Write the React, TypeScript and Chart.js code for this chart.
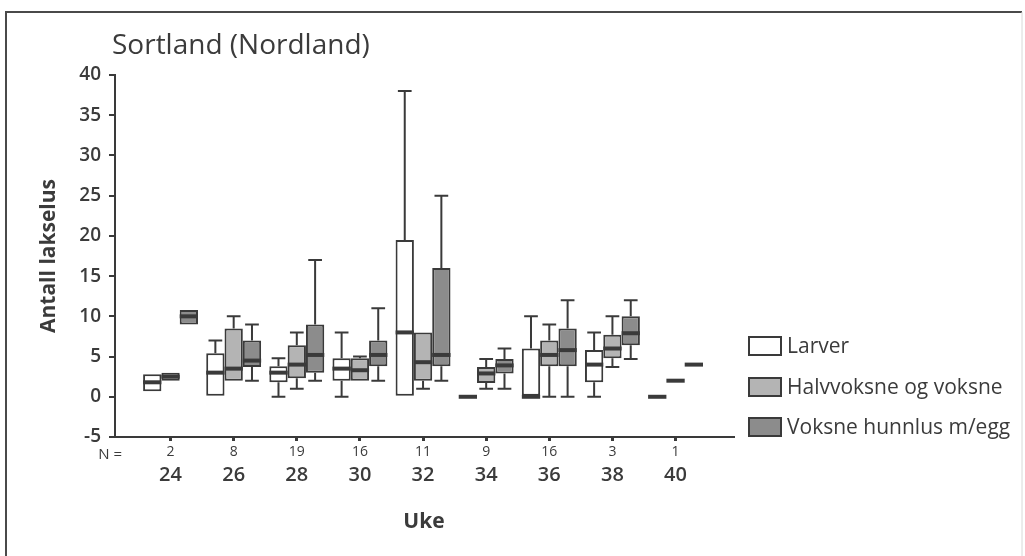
import React, { useEffect, useRef } from 'react';
import { Chart, registerables } from 'chart.js';
Chart.register(...registerables);

const weeks = [24, 26, 28, 30, 32, 34, 36, 38, 40];
const nCounts = [2, 8, 19, 16, 11, 9, 16, 3, 1];
const seriesNames = ['Larver', 'Halvvoksne og voksne', 'Voksne hunnlus m/egg'];
// each entry: [min, q1, median, q3, max]
const larver = [
  [0.7, 0.7, 1.8, 2.8, 2.8],
  [0, 0, 3, 5.4, 7],
  [0, 1.8, 3, 3.8, 4.8],
  [0, 2, 3.5, 4.8, 8],
  [0, 0, 8, 19.5, 38],
  [0, 0, 0, 0, 0],
  [0, 0, 0, 6, 10],
  [0, 1.8, 4, 5.8, 8],
  [0, 0, 0, 0, 0],
];
const halvvoksne = [
  [2, 2, 2.5, 3, 3],
  [2, 2, 3.5, 8.5, 10],
  [1, 2.3, 4, 6.4, 8],
  [2, 2, 3.3, 4.8, 5],
  [1, 2, 4.3, 8, 8],
  [1, 1.7, 2.9, 3.7, 4.7],
  [0, 3.8, 5.2, 7, 9],
  [3.7, 4.8, 6, 7.7, 10],
  [2, 2, 2, 2, 2],
];
const voksne = [
  [9, 9, 10, 10.8, 10.8],
  [2, 3.7, 4.5, 7, 9],
  [2, 3, 5.2, 9, 17],
  [2, 3.8, 5.2, 7, 11],
  [2, 3.8, 5.2, 16, 25],
  [1, 2.9, 3.9, 4.7, 6],
  [0, 3.8, 5.8, 8.5, 12],
  [4.7, 6.4, 7.9, 10, 12],
  [4, 4, 4, 4, 4],
];

const FONT = "'Open Sans', 'Noto Sans', sans-serif";
const TEXT = '#3b3b3b';
const LINE = '#3a3a3a';
const fills = ['#ffffff', '#b4b4b4', '#8c8c8c'];
const X_MIN = 22.24;
const X_MAX = 41.82;

export default function App() {
  const ref = useRef<HTMLCanvasElement>(null);
  useEffect(() => {
    document.body.style.margin = '0';
    const boxPlugin = {
      id: 'boxWhiskers',
      afterDatasetsDraw(chart: any) {
        const ctx = chart.ctx;
        const y = chart.scales.y;
        ctx.save();
        ctx.strokeStyle = LINE;
        chart.data.datasets.forEach((ds: any, di: number) => {
          const meta = chart.getDatasetMeta(di);
          meta.data.forEach((bar: any, i: number) => {
            const st = ds.stats[i];
            const { x, width } = bar.getProps(['x', 'width'], true);
            const [mn, q1, md, q3, mx] = st;
            const cap = width * 0.75;
            ctx.lineWidth = 2;
            ctx.beginPath();
            if (mx > q3) {
              ctx.moveTo(x, y.getPixelForValue(q3));
              ctx.lineTo(x, y.getPixelForValue(mx));
              ctx.moveTo(x - cap / 2, y.getPixelForValue(mx));
              ctx.lineTo(x + cap / 2, y.getPixelForValue(mx));
            }
            if (mn < q1) {
              ctx.moveTo(x, y.getPixelForValue(q1));
              ctx.lineTo(x, y.getPixelForValue(mn));
              ctx.moveTo(x - cap / 2, y.getPixelForValue(mn));
              ctx.lineTo(x + cap / 2, y.getPixelForValue(mn));
            }
            ctx.stroke();
            ctx.lineWidth = 4;
            ctx.beginPath();
            ctx.moveTo(x - width / 2, y.getPixelForValue(md));
            ctx.lineTo(x + width / 2, y.getPixelForValue(md));
            ctx.stroke();
          });
        });
        ctx.restore();
      },
    };
    const decorPlugin = {
      id: 'decor',
      afterDraw(chart: any) {
        const ctx = chart.ctx;
        ctx.save();
        // frame
        ctx.strokeStyle = '#4a4a4a';
        ctx.lineWidth = 2;
        ctx.beginPath();
        ctx.moveTo(6, 556);
        ctx.lineTo(6, 12);
        ctx.lineTo(1022, 12);
        ctx.stroke();
        ctx.strokeStyle = '#d8d8d8';
        ctx.lineWidth = 1;
        ctx.beginPath();
        ctx.moveTo(1022, 12);
        ctx.lineTo(1022, 556);
        ctx.stroke();
        // title
        ctx.fillStyle = TEXT;
        ctx.textBaseline = 'middle';
        ctx.textAlign = 'left';
        ctx.font = `28px ${FONT}`;
        ctx.fillText('Sortland (Nordland)', 112, 46);
        // N =
        ctx.font = `15px ${FONT}`;
        ctx.textAlign = 'right';
        ctx.fillText('N =', 122, 455);
        // legend
        const ly = [346, 387, 427];
        ctx.textAlign = 'left';
        ctx.font = `21px ${FONT}`;
        seriesNames.forEach((name, k) => {
          ctx.fillStyle = fills[k];
          ctx.fillRect(749, ly[k] - 9, 32, 18);
          ctx.strokeStyle = LINE;
          ctx.lineWidth = 2;
          ctx.strokeRect(749, ly[k] - 9, 32, 18);
          ctx.fillStyle = TEXT;
          ctx.fillText(name, 787, ly[k] + 1);
        });
        ctx.restore();
      },
    };
    const setWeekTicks = (s: any) => {
      s.ticks = weeks.map((v) => ({ value: v }));
    };
    const chart = new Chart(ref.current as HTMLCanvasElement, {
      type: 'bar',
      data: {
        datasets: [larver, halvvoksne, voksne].map((s, k) => ({
          label: seriesNames[k],
          data: weeks.map((w, i) => ({ x: w, y: [s[i][1], s[i][3]] })),
          stats: s,
          backgroundColor: fills[k],
          borderColor: LINE,
          borderWidth: 2,
          borderSkipped: false,
          categoryPercentage: 0.87,
          barPercentage: 1,
        })) as any,
      },
      options: {
        animation: false,
        responsive: false,
        maintainAspectRatio: false,
        layout: { padding: { left: 28, top: 75, right: 292, bottom: 21 } },
        plugins: {
          legend: { display: false },
          tooltip: { enabled: false },
          title: { display: false },
        },
        scales: {
          x: {
            type: 'linear',
            position: 'bottom',
            offset: false,
            min: X_MIN,
            max: X_MAX,
            afterBuildTicks: setWeekTicks,
            afterFit: (s: any) => {
              s.height = 24;
            },
            ticks: {
              callback: (v: any) => {
                const i = weeks.indexOf(Number(v));
                return i >= 0 ? String(nCounts[i]) : '';
              },
              font: { family: FONT, size: 14 },
              color: TEXT,
              padding: 3,
              maxRotation: 0,
              autoSkip: false,
            },
            grid: { offset: false, drawOnChartArea: false, drawTicks: true, tickLength: 4, color: LINE, lineWidth: 3 },
            border: { display: true, color: LINE, width: 2 },
          },
          x2: {
            type: 'linear',
            position: 'bottom',
            offset: false,
            min: X_MIN,
            max: X_MAX,
            afterBuildTicks: setWeekTicks,
            afterFit: (s: any) => {
              s.height = 74;
            },
            ticks: {
              callback: (v: any) => String(v),
              font: { family: FONT, size: 20, weight: '600' },
              color: TEXT,
              padding: 2,
              maxRotation: 0,
              autoSkip: false,
            },
            grid: { offset: false, display: false, drawTicks: false },
            border: { display: false },
            title: {
              display: true,
              text: 'Uke',
              font: { family: FONT, size: 21, weight: 'bold' },
              color: TEXT,
              padding: { top: 18, bottom: 0 },
            },
          },
          y: {
            min: -5,
            max: 40,
            afterFit: (s: any) => {
              s.width = 87;
            },
            ticks: {
              stepSize: 5,
              font: { family: FONT, size: 19, weight: '600' },
              color: TEXT,
              padding: 8,
            },
            grid: { drawOnChartArea: false, tickLength: 6, color: LINE, lineWidth: 2 },
            border: { color: LINE, width: 2 },
            title: {
              display: true,
              text: 'Antall lakselus',
              font: { family: FONT, size: 21, weight: 'bold' },
              color: TEXT,
              padding: { top: 8, bottom: 4 },
            },
          },
        },
      } as any,
      plugins: [boxPlugin, decorPlugin],
    });
    return () => chart.destroy();
  }, []);
  return <canvas ref={ref} width={1025} height={556} style={{ display: 'block' }} />;
}
